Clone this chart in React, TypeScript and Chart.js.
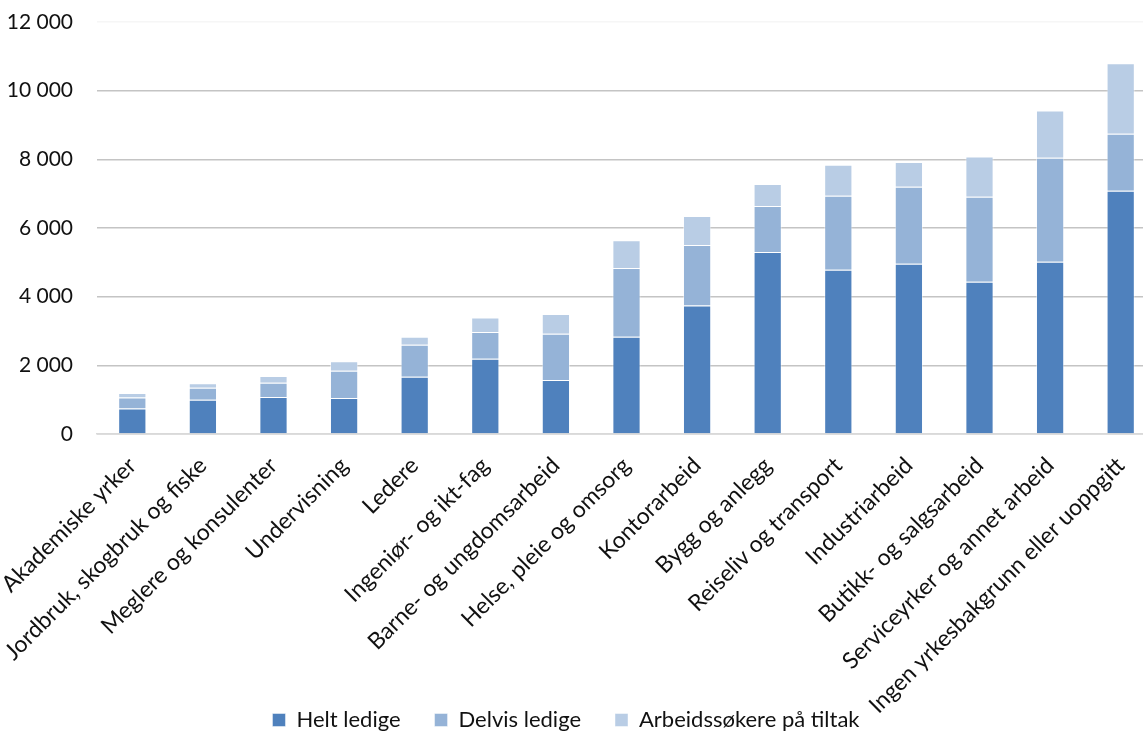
import React, { useEffect, useRef } from "react";
import { Chart, registerables } from "chart.js";

Chart.register(...registerables);

const categories = [
  "Akademiske yrker",
  "Jordbruk, skogbruk og fiske",
  "Meglere og konsulenter",
  "Undervisning",
  "Ledere",
  "Ingeniør- og ikt-fag",
  "Barne- og ungdomsarbeid",
  "Helse, pleie og omsorg",
  "Kontorarbeid",
  "Bygg og anlegg",
  "Reiseliv og transport",
  "Industriarbeid",
  "Butikk- og salgsarbeid",
  "Serviceyrker og annet arbeid",
  "Ingen yrkesbakgrunn eller uoppgitt",
];

const heltLedige = [740, 1000, 1080, 1050, 1670, 2190, 1570, 2835, 3740, 5300, 4785, 4960, 4435, 5020, 7085];
const delvisLedige = [320, 350, 415, 795, 930, 780, 1350, 2000, 1765, 1340, 2155, 2240, 2475, 3025, 1660];
const tiltak = [135, 130, 195, 275, 235, 425, 575, 805, 845, 640, 900, 720, 1175, 1380, 2050];

const seriesNames = ["Helt ledige", "Delvis ledige", "Arbeidssøkere på tiltak"];
const seriesColors = ["#4F81BD", "#95B3D7", "#B9CDE5"];

const fmt = (v: number) => String(v).replace(/\B(?=(\d{3})+(?!\d))/g, " ");

const LEGEND_PAD = 34;
const LEGEND_FONT = 22;

const legendShift = {
  id: "legendShift",
  afterLayout(chart: any) {
    const lg = chart.legend;
    if (!lg) return;
    lg.left -= 12;
    lg.right -= 12;
    const h = LEGEND_FONT + LEGEND_PAD + 10;
    lg.top = 720 - LEGEND_PAD - LEGEND_FONT / 2;
    lg.bottom = lg.top + h;
    lg.height = h;
  },
};

export default function App() {
  const ref = useRef<HTMLCanvasElement | null>(null);
  useEffect(() => {
    if (!ref.current) return;
    const yFont = { family: "Lato", size: 21 };
    const xFont = { family: "Lato", size: 23 };
    const chart = new Chart(ref.current, {
      type: "bar",
      data: {
        labels: categories,
        datasets: [heltLedige, delvisLedige, tiltak].map((d, i) => ({
          label: seriesNames[i],
          data: d,
          backgroundColor: seriesColors[i],
          borderColor: "rgba(255,255,255,0.45)",
          borderWidth: 1,
          categoryPercentage: 1,
          barPercentage: 0.4,
        })),
      },
      plugins: [legendShift],
      options: {
        responsive: false,
        animation: false,
        devicePixelRatio: 1,
        layout: { padding: { top: 22, left: 0, right: 0, bottom: 0 } },
        plugins: {
          legend: {
            position: "bottom",
            maxHeight: 10,
            labels: {
              font: { family: "Lato", size: LEGEND_FONT },
              color: "#111",
              boxWidth: 13,
              boxHeight: 13,
              padding: LEGEND_PAD,
            },
          },
          tooltip: { enabled: false },
        },
        scales: {
          x: {
            stacked: true,
            grid: { display: false, drawTicks: false },
            border: { color: "#d9d9d9", width: 1.5 },
            ticks: {
              font: xFont,
              color: "#111",
              minRotation: 45,
              maxRotation: 45,
              autoSkip: false,
              padding: 18,
            },
            afterFit: (s: any) => {
              s.paddingLeft = 0;
              s.paddingRight = 0;
              s.height = 289;
            },
          },
          y: {
            stacked: true,
            min: 0,
            max: 12000,
            grid: {
              color: (ctx: any) => (ctx.tick && ctx.tick.value === 12000 ? "#f6f6f6" : "#c4c4c4"),
              lineWidth: 1.5,
              drawTicks: false,
            },
            border: { display: false },
            ticks: {
              stepSize: 2000,
              font: yFont,
              color: "#111",
              padding: 24,
              callback: (v: any) => fmt(Number(v)),
            },
            afterFit: (s: any) => {
              s.paddingTop = 0;
              s.paddingBottom = 0;
              s.width = 97;
            },
          },
        },
      },
    });
    return () => chart.destroy();
  }, []);
  return (
    <div style={{ position: "fixed", left: 0, top: 0, width: 1143, height: 733, overflow: "hidden", background: "#fff" }}>
      <canvas ref={ref} width={1156} height={733} />
    </div>
  );
}
